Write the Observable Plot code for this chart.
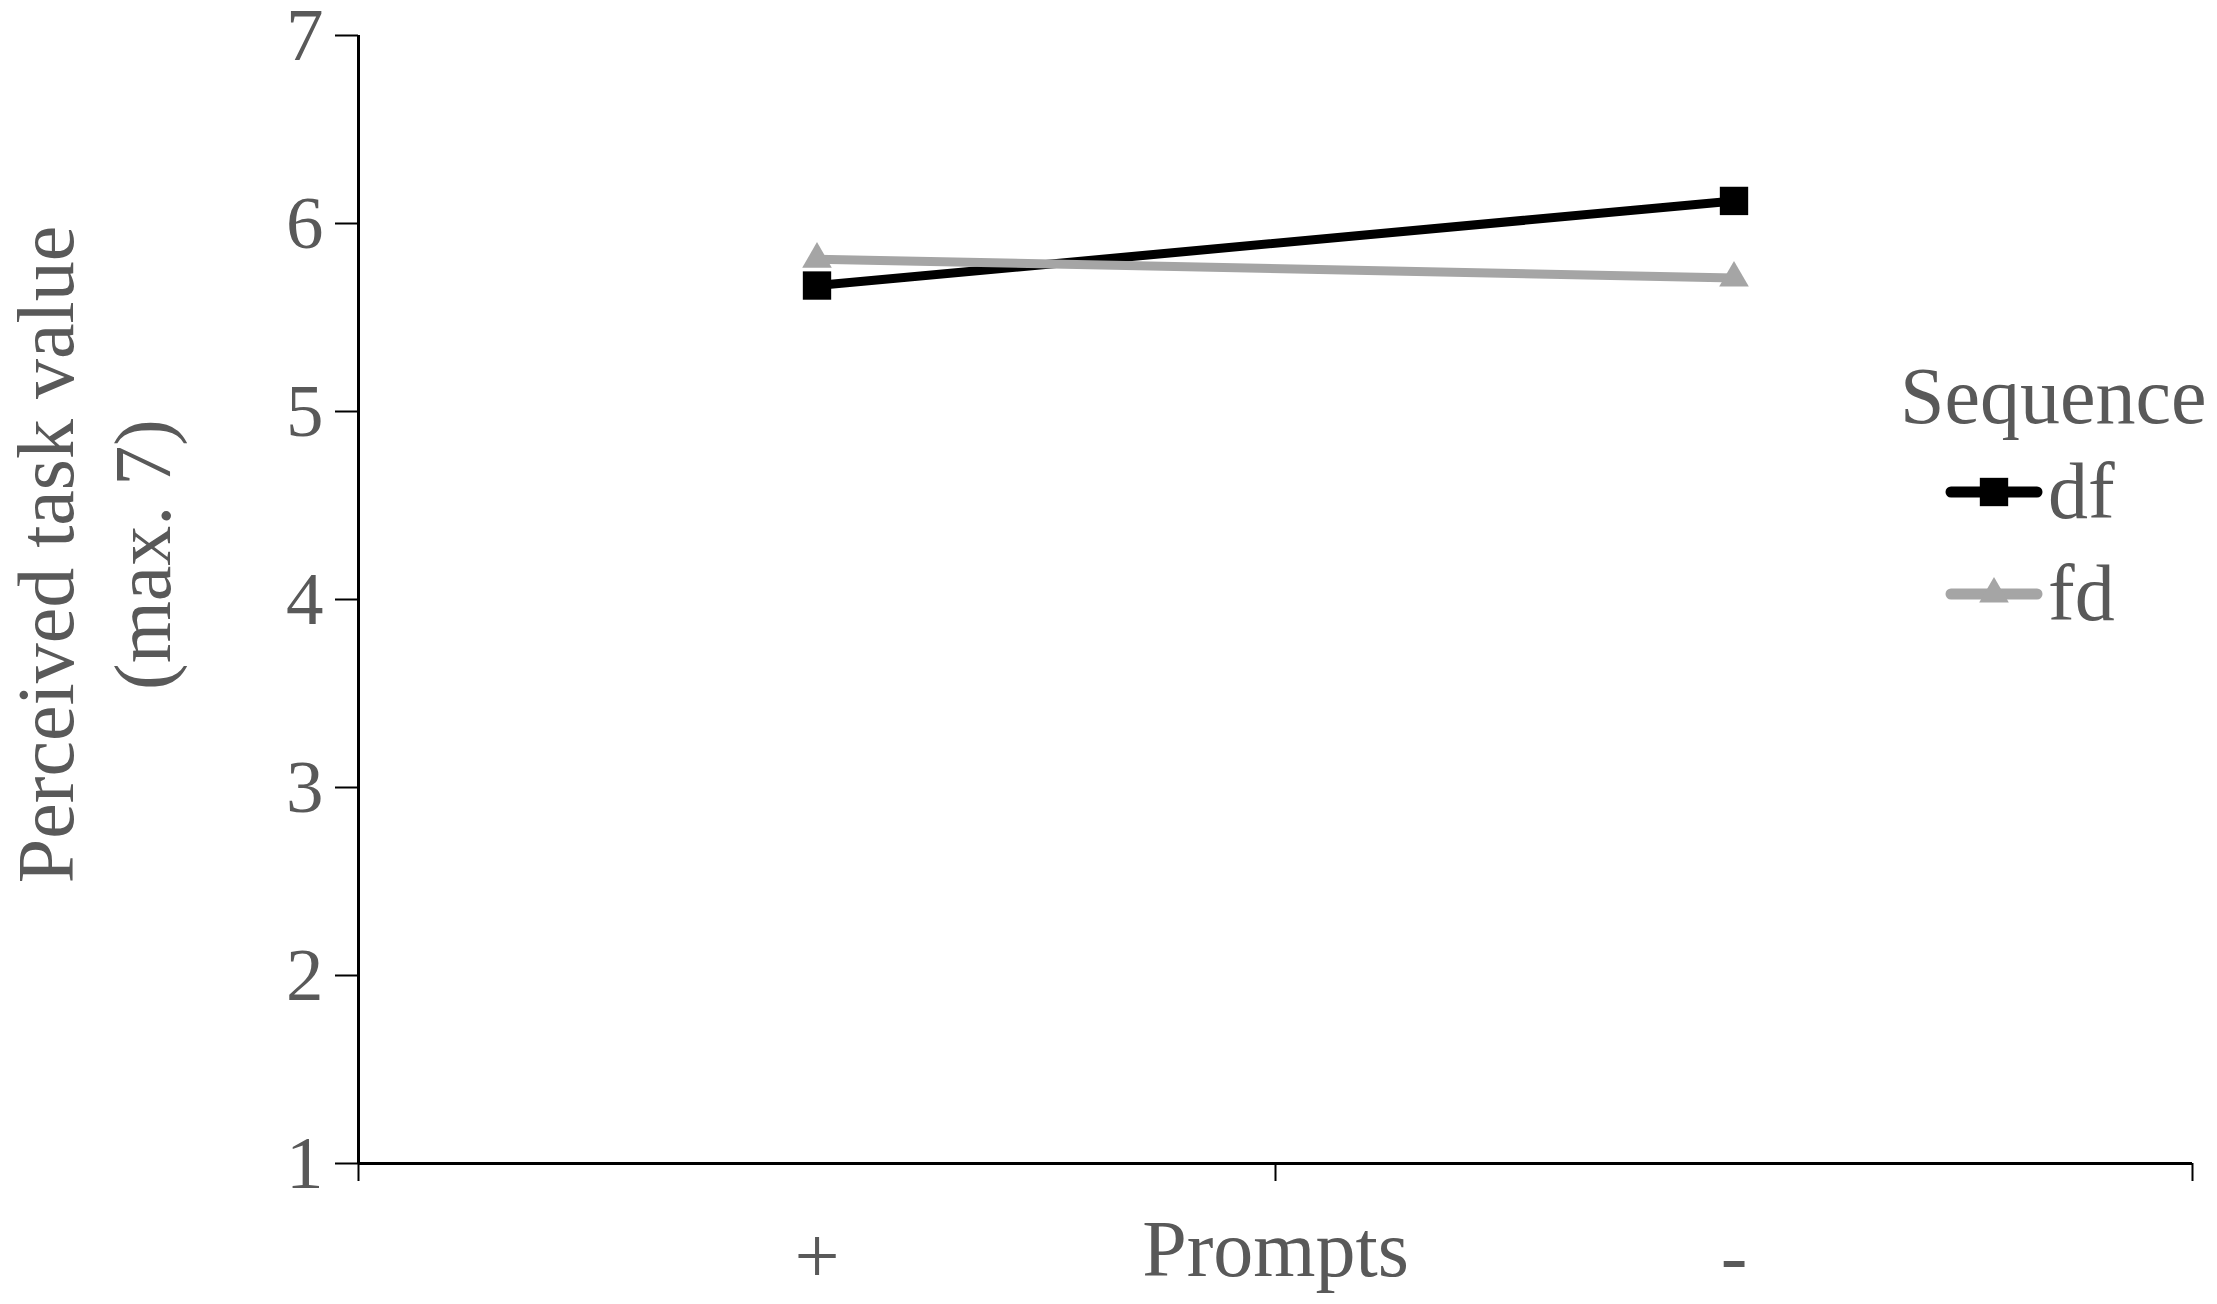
<!DOCTYPE html>
<html><head><meta charset="utf-8">
<script src="https://cdn.jsdelivr.net/npm/d3@7"></script>
<script src="https://cdn.jsdelivr.net/npm/@observablehq/plot@0.6"></script>
<style>
body{margin:0;background:#fff;}
#wrap{position:relative;width:2217px;height:1304px;}
#legend{position:absolute;left:1900px;top:352px;font-family:"Liberation Serif","Times New Roman",serif;font-size:80px;color:#595959;}
#legend .lt{height:88px;line-height:88px;white-space:nowrap;}
#legend .lr{position:relative;height:102px;line-height:102px;padding-left:148px;white-space:nowrap;}
#legend .lr svg{position:absolute;left:45px;top:32px;}
</style></head><body><div id="wrap"></div>
<script>
const prompts = ["+", "-"];
const seriesNames = ["df", "fd"];
const dfValues = [5.67, 6.12];
const fdValues = [5.81, 5.71];
const yTicks = [1, 2, 3, 4, 5, 6, 7];
const xLabel = "Prompts";
const yLabel = "Perceived task value\n(max. 7)";
const legendTitle = "Sequence";

const seriesValues = [dfValues, fdValues];
const colors = ["#000000", "#a5a5a5"];
const symbols = ["square", "triangle"];
const radii = [16, 11];
const font = "Liberation Serif, Times New Roman, serif";

const rows = seriesNames.flatMap((s, si) => prompts.map((p, i) => ({series: s, si, i, prompt: p, value: seriesValues[si][i]})));

const marks = [
  Plot.axisY({ticks: yTicks, tickSize: 23, tickPadding: 12, stroke: "#000", strokeWidth: 2, fill: "#595959", fontSize: 75, label: null, tickFormat: d3.format("d")}),
  Plot.axisX({ticks: [-0.5, 0.5, 1.5], tickSize: 18, tickFormat: () => "", stroke: "#000", strokeWidth: 2, label: null}),
  Plot.axisX({ticks: prompts.map((p, i) => i), tickSize: 0, tickPadding: 63, tickFormat: i => prompts[i], fontSize: 80, fill: "#595959", label: xLabel, labelAnchor: "center", labelArrow: "none", labelOffset: 112}),
  Plot.ruleX([-0.5], {stroke: "#000", strokeWidth: 3}),
  Plot.ruleY([1], {stroke: "#000", strokeWidth: 3}),
  Plot.text([yLabel], {frameAnchor: "left", text: d => d, rotate: -90, lineAnchor: "top", textAnchor: "middle", dx: -355, dy: -45, fontSize: 80, lineHeight: 1.22, fill: "#595959"})
];
seriesNames.forEach((s, si) => {
  const data = rows.filter(d => d.si === si);
  marks.push(Plot.line(data, {x: "i", y: "value", stroke: colors[si], strokeWidth: 9}));
  marks.push(Plot.dot(data, {x: "i", y: "value", symbol: symbols[si], r: radii[si], fill: colors[si], stroke: "none"}));
});

const chart = Plot.plot({
  width: 2217,
  height: 1304,
  marginLeft: 358,
  marginRight: 25,
  marginTop: 35,
  marginBottom: 141,
  style: {fontFamily: font, background: "#fff"},
  x: {domain: [-0.5, 1.5]},
  y: {domain: [1, 7]},
  marks
});
const wrap = document.getElementById("wrap");
wrap.append(chart);

// legend
const legend = document.createElement("div");
legend.id = "legend";
const title = document.createElement("div");
title.className = "lt";
title.textContent = legendTitle;
legend.append(title);
seriesNames.forEach((s, si) => {
  const row = document.createElement("div");
  row.className = "lr";
  const sw = d3.create("svg").attr("width", 100).attr("height", 40);
  sw.append("line").attr("x1", 6).attr("x2", 92).attr("y1", 20).attr("y2", 20)
    .attr("stroke", colors[si]).attr("stroke-width", 11).attr("stroke-linecap", "round");
  const sym = si === 0 ? d3.symbolSquare : d3.symbolTriangle;
  sw.append("path").attr("transform", "translate(49,20)")
    .attr("d", d3.symbol(sym, Math.PI * radii[si] * radii[si])()).attr("fill", colors[si]);
  row.append(sw.node());
  row.append(document.createTextNode(s));
  legend.append(row);
});
wrap.append(legend);
</script>
</body></html>
